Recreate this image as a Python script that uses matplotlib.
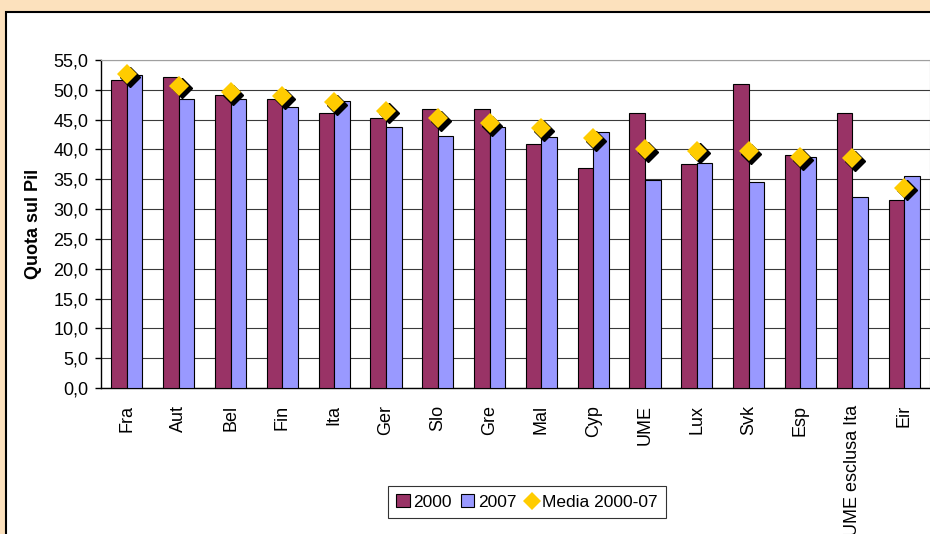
import matplotlib.pyplot as plt
import matplotlib.patches as patches
import matplotlib.transforms as mtransforms
from matplotlib.lines import Line2D
from matplotlib.ticker import FuncFormatter, MultipleLocator
import numpy as np

plt.rcParams['font.family'] = ['Liberation Sans', 'DejaVu Sans']

paesi = ['Fra', 'Aut', 'Bel', 'Fin', 'Ita', 'Ger', 'Slo', 'Gre', 'Mal', 'Cyp',
         'UME', 'Lux', 'Svk', 'Esp', 'UME esclusa Ita', 'Eir']
val_2000 = [51.7, 52.2, 49.2, 48.5, 46.1, 45.2, 46.8, 46.8, 40.9, 36.9,
            46.1, 37.6, 51.0, 39.0, 46.1, 31.5]
val_2007 = [52.5, 48.5, 48.5, 47.2, 48.2, 43.8, 42.3, 43.8, 42.1, 43.0,
            34.8, 37.8, 34.5, 38.8, 32.0, 35.5]
media = [52.6, 50.7, 49.6, 49.0, 48.0, 46.5, 45.3, 44.4, 43.6, 41.9,
         40.1, 39.8, 39.7, 38.7, 38.5, 33.6]

col_2000 = '#993366'
col_2007 = '#9999FF'
col_media = '#FFCC00'

fig = plt.figure(figsize=(9.3, 5.34), dpi=100)
fig.patch.set_facecolor('#FCE1BD')

# pannello bianco (tagliato a destra e in basso come nello screenshot)
pannello = patches.Rectangle((6 / 930, -0.05), 1.1, 1 - 12 / 534 + 0.05,
                             transform=fig.transFigure, facecolor='white',
                             edgecolor='black', linewidth=1.5, zorder=-10)
fig.patches.append(pannello)

ax = fig.add_axes([101 / 930, 1 - 388 / 534, 829 / 930, 328 / 534])
ax.set_facecolor('white')

x = np.arange(len(paesi))
w = 0.3
ax.bar(x - w / 2, val_2000, w, color=col_2000, edgecolor='black', linewidth=0.8, zorder=3)
ax.bar(x + w / 2, val_2007, w, color=col_2007, edgecolor='black', linewidth=0.8, zorder=3)

# rombi con ombra nera
ombra = mtransforms.offset_copy(ax.transData, fig=fig, x=2.8, y=-2.8, units='dots')
ax.plot(x, media, linestyle='none', marker='D', markersize=10.5, color='black',
        transform=ombra, zorder=4)
ax.plot(x, media, linestyle='none', marker='D', markersize=10.5, color=col_media,
        markeredgewidth=0, zorder=5)

ax.set_xlim(-0.5, len(paesi) - 0.5)
ax.set_ylim(0, 55)
ax.yaxis.set_major_locator(MultipleLocator(5))
ax.yaxis.set_major_formatter(FuncFormatter(lambda v, p: f'{v:.1f}'.replace('.', ',')))
ax.grid(axis='y', color='#3a3a3a', linewidth=0.8, zorder=1)

ax.set_xticks(x)
ax.set_xticklabels(paesi, rotation=90, va='top', ha='center')
ax.tick_params(axis='x', length=0, pad=12, labelsize=13)
ax.tick_params(axis='y', length=4, width=1, pad=5, labelsize=13, direction='out')

for s in ['top', 'right']:
    ax.spines[s].set_color('#a0a0a0')
for s in ['left', 'bottom']:
    ax.spines[s].set_color('black')
    ax.spines[s].set_linewidth(1)

ax.set_ylabel('Quota sul Pil', fontsize=13, fontweight='bold', labelpad=8)

handles = [
    patches.Patch(facecolor=col_2000, edgecolor='black', linewidth=0.8, label='2000'),
    patches.Patch(facecolor=col_2007, edgecolor='black', linewidth=0.8, label='2007'),
    Line2D([], [], linestyle='none', marker='D', markersize=9, color=col_media,
           markeredgewidth=0, label='Media 2000-07'),
]
leg = fig.legend(handles=handles, loc='center', bbox_to_anchor=(527 / 930, 1 - 502 / 534),
                 ncol=3, fontsize=12.5, frameon=True, fancybox=False, edgecolor='black',
                 handlelength=0.8, handleheight=0.8, handletextpad=0.2,
                 columnspacing=0.5, borderpad=0.45)
leg.get_frame().set_linewidth(0.8)

fig.savefig('out.png', dpi=100, facecolor=fig.get_facecolor())
